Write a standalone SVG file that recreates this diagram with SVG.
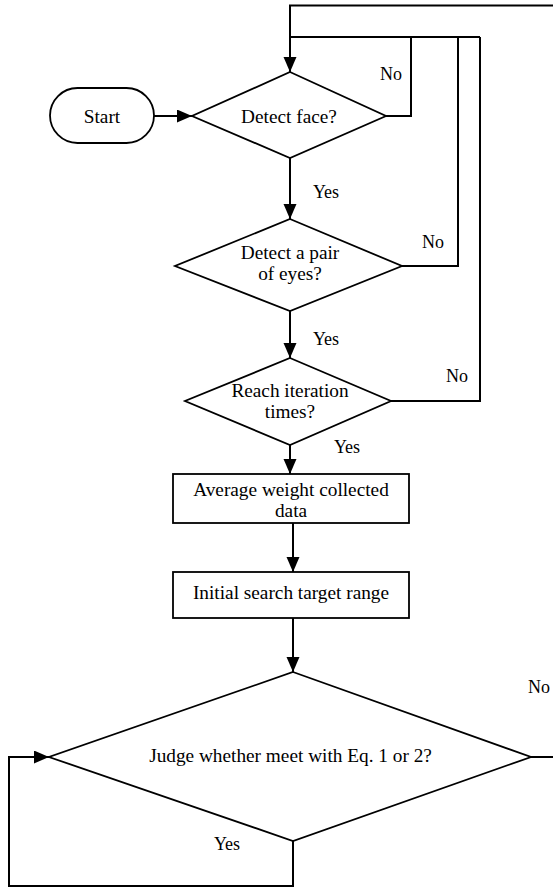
<svg xmlns="http://www.w3.org/2000/svg" width="553" height="888" viewBox="0 0 553 888">
<style>
.shape{fill:#fff;stroke:#000;stroke-width:1.8}
.conn{fill:none;stroke:#000;stroke-width:2}
text{font-family:"Liberation Serif","Times New Roman",serif;font-size:19.3px;fill:#000;text-anchor:middle}
.lbl{font-size:18px}
</style>
<defs>
<marker id="arr" markerUnits="userSpaceOnUse" markerWidth="16" markerHeight="14" refX="15" refY="6.5" orient="auto">
<path d="M0,0 L15,6.5 L0,13 z" fill="#000"/>
</marker>
</defs>
<rect width="553" height="888" fill="#fff"/>
<g id="connectors">
<polyline class="conn" points="553,5.5 290,5.5 290,72" marker-end="url(#arr)"/>
<line class="conn" x1="290" y1="37" x2="480" y2="37"/>
<polyline class="conn" points="386,116 411,116 411,37"/>
<polyline class="conn" points="402,266 458,266 458,37"/>
<polyline class="conn" points="391,401 480,401 480,37"/>
<line class="conn" x1="154" y1="116" x2="192" y2="116" marker-end="url(#arr)"/>
<line class="conn" x1="290" y1="158" x2="290" y2="219" marker-end="url(#arr)"/>
<line class="conn" x1="290" y1="311" x2="290" y2="358" marker-end="url(#arr)"/>
<line class="conn" x1="290" y1="445" x2="290" y2="474" marker-end="url(#arr)"/>
<line class="conn" x1="293" y1="523" x2="293" y2="572" marker-end="url(#arr)"/>
<line class="conn" x1="293" y1="618" x2="293" y2="672" marker-end="url(#arr)"/>
<line class="conn" x1="531" y1="757" x2="553" y2="757"/>
<polyline class="conn" points="293,841 293,886 9,886 9,757 49,757" marker-end="url(#arr)"/>
<text class="lbl" x="391" y="80">No</text>
<text class="lbl" x="326" y="198">Yes</text>
<text class="lbl" x="433" y="248">No</text>
<text class="lbl" x="326" y="345">Yes</text>
<text class="lbl" x="457" y="382">No</text>
<text class="lbl" x="347" y="453">Yes</text>
<text class="lbl" x="528" y="693" style="text-anchor:start">No</text>
<text class="lbl" x="227" y="850">Yes</text>
</g>
<g id="start">
<rect class="shape" x="50" y="88" width="104" height="55" rx="27.5" ry="27.5"/>
<text x="102" y="122.5">Start</text>
</g>
<g id="detect-face">
<polygon class="shape" points="290,72 386,116 290,158 192,116"/>
<text x="289" y="122.5">Detect face?</text>
</g>
<g id="detect-eyes">
<polygon class="shape" points="290,219 402,266 290,311 175,266"/>
<text x="290" y="259">Detect a pair</text>
<text x="290" y="280">of eyes?</text>
</g>
<g id="reach-iteration">
<polygon class="shape" points="290,358 391,401 290,445 185,401"/>
<text x="290" y="396.5">Reach iteration</text>
<text x="290" y="418">times?</text>
</g>
<g id="average">
<rect class="shape" x="173" y="474" width="236" height="49"/>
<text x="291" y="495.5">Average weight collected</text>
<text x="291" y="516.5">data</text>
</g>
<g id="initial">
<rect class="shape" x="173" y="572" width="236" height="46"/>
<text x="291" y="599">Initial search target range</text>
</g>
<g id="judge">
<polygon class="shape" points="293,672 531,757 293,841 49,757"/>
<text x="290.5" y="761.5">Judge whether meet with Eq. 1 or 2?</text>
</g>
</svg>
